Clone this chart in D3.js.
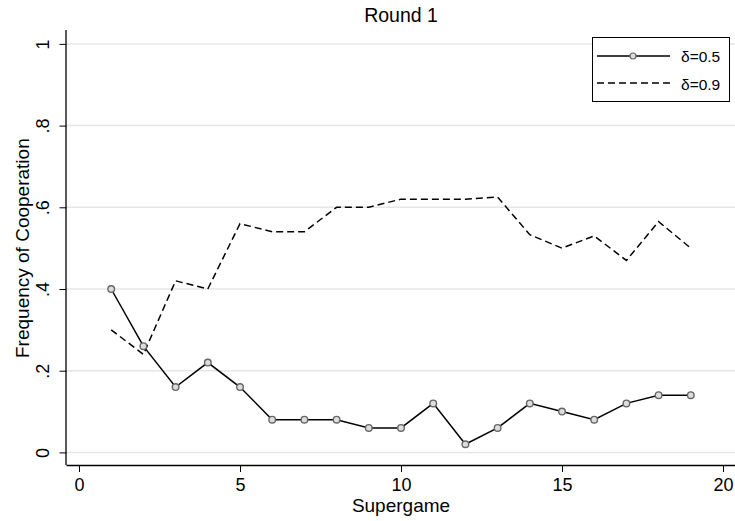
<!DOCTYPE html>
<html><head><meta charset="utf-8">
<script src="https://cdn.jsdelivr.net/npm/d3@7"></script>
<style>body{margin:0;background:#fff}svg{display:block;font-family:"Liberation Sans",Arial,sans-serif}</style>
</head><body><svg id="c" width="735" height="521"></svg>
<script>
const supergames = [1,2,3,4,5,6,7,8,9,10,11,12,13,14,15,16,17,18,19];
const delta05 = [0.40,0.26,0.16,0.22,0.16,0.08,0.08,0.08,0.06,0.06,0.12,0.02,0.06,0.12,0.10,0.08,0.12,0.14,0.14];
const delta09 = [0.30,0.24,0.42,0.40,0.56,0.54,0.54,0.60,0.60,0.62,0.62,0.62,0.625,0.533,0.50,0.53,0.47,0.565,0.50];
const xTicks = [0,5,10,15,20];
const yTicks = [0,0.2,0.4,0.6,0.8,1];
const yTickLabels = ["0",".2",".4",".6",".8","1"];
const seriesNames = ["\u03B4=0.5","\u03B4=0.9"];

const svg = d3.select("#c");
const x = d3.scaleLinear().domain([0,20]).range([79,723]);
const y = d3.scaleLinear().domain([0,1]).range([452.4,43.9]);
const axisY0 = 465, axisX0 = 66.5;
const FF = "'Liberation Sans',Arial,sans-serif";

// gridlines
svg.append("g").selectAll("line").data(yTicks).join("line")
  .attr("x1",axisX0).attr("x2",735).attr("y1",d=>y(d)).attr("y2",d=>y(d))
  .attr("stroke","#e6e6e6").attr("stroke-width",1.5);

// x axis
const xa = svg.append("g").attr("transform",`translate(0,${axisY0})`)
  .call(d3.axisBottom(x).tickValues(xTicks).tickSize(7).tickPadding(6));
xa.select(".domain").attr("d",`M${axisX0},0.5H735`).attr("stroke-width",1.3);
xa.selectAll("text").attr("font-size",18).attr("fill","#000").style("font-family",FF);
xa.selectAll("line").attr("stroke","#000");
// y axis
const ya = svg.append("g").attr("transform",`translate(${axisX0},0)`)
  .call(d3.axisLeft(y).tickValues(yTicks).tickFormat(d=>yTickLabels[yTicks.indexOf(d)]).tickSize(7).tickPadding(4));
ya.select(".domain").attr("d",`M-0.5,30V${axisY0}`).attr("stroke-width",1.3);
ya.selectAll("line").attr("stroke","#000");
ya.selectAll("text").attr("font-size",18).attr("fill","#000")
  .style("font-family",FF)
  .attr("text-anchor","middle").attr("x",0).attr("y",0).attr("dy",0)
  .attr("transform","translate(-22,0) rotate(-90)")
  .attr("dominant-baseline","middle");

// titles
svg.append("text").attr("x",(x(0)+x(20))/2).attr("y",22).attr("text-anchor","middle").attr("font-size",19.5).text("Round 1");
svg.append("text").attr("x",(x(0)+x(20))/2).attr("y",512).attr("text-anchor","middle").attr("font-size",19).text("Supergame");
svg.append("text").attr("transform",`translate(28.5,${(y(0)+y(1))/2}) rotate(-90)`).attr("text-anchor","middle").attr("font-size",19).text("Frequency of Cooperation");

const line = d3.line().x((d,i)=>x(supergames[i])).y(d=>y(d));
svg.append("path").attr("d",line(delta09)).attr("fill","none").attr("stroke","#000").attr("stroke-width",1.5).attr("stroke-dasharray","7,4");
svg.append("path").attr("d",line(delta05)).attr("fill","none").attr("stroke","#000").attr("stroke-width",1.5);
svg.append("g").selectAll("circle").data(delta05).join("circle")
  .attr("cx",(d,i)=>x(supergames[i])).attr("cy",d=>y(d)).attr("r",3.3)
  .attr("fill","#ddd").attr("stroke","#666").attr("stroke-width",1.4);

// legend
const lg = svg.append("g");
lg.append("rect").attr("x",592.5).attr("y",37.5).attr("width",137).attr("height",64).attr("fill","#fff").attr("stroke","#000");
lg.append("line").attr("x1",597).attr("x2",670).attr("y1",56).attr("y2",56).attr("stroke","#000").attr("stroke-width",1.5);
lg.append("circle").attr("cx",633).attr("cy",56).attr("r",3).attr("fill","#ddd").attr("stroke","#666").attr("stroke-width",1.2);
lg.append("line").attr("x1",597).attr("x2",670).attr("y1",83).attr("y2",83).attr("stroke","#000").attr("stroke-width",1.5).attr("stroke-dasharray","7,4");
lg.selectAll("text").data(seriesNames).join("text").attr("x",681).attr("y",(d,i)=>62+i*28).attr("font-size",15.5).text(d=>d);
</script></body></html>
